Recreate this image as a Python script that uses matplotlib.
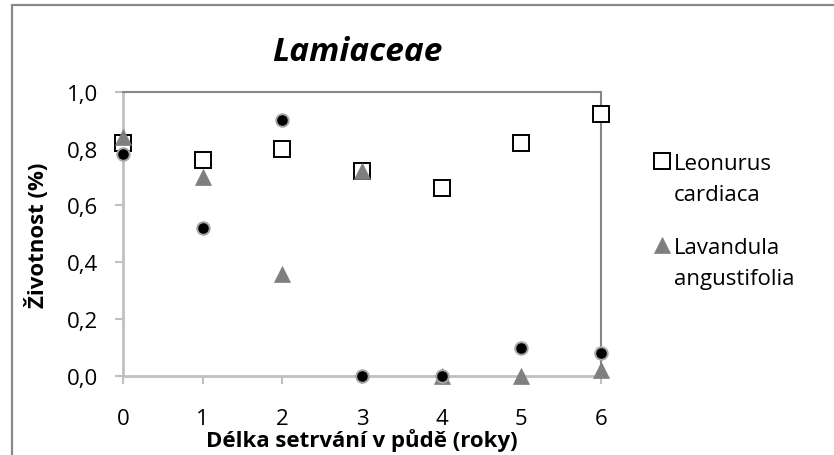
import matplotlib
matplotlib.use("Agg")
import matplotlib.pyplot as plt
from matplotlib.patches import Rectangle

plt.rcParams['font.family'] = ['Open Sans', 'DejaVu Sans']

# Years in soil
years = [0, 1, 2, 3, 4, 5, 6]
# Survival values per species
leonurus = [0.82, 0.76, 0.80, 0.72, 0.66, 0.82, 0.92]
lavandula = [0.84, 0.70, 0.36, 0.72, 0.00, 0.00, 0.02]
third_series = [0.78, 0.52, 0.90, 0.00, 0.00, 0.10, 0.08]

yticks = [0.0, 0.2, 0.4, 0.6, 0.8, 1.0]
ytick_labels = ['0,0', '0,2', '0,4', '0,6', '0,8', '1,0']
xticks = years
xtick_labels = [str(v) for v in years]

W, H = 834, 456
fig = plt.figure(figsize=(W / 100, H / 100), dpi=100)

# chart border (runs off the right and bottom edges)
fig.patches.append(Rectangle((12 / W, -0.05), 1.2, 1 - 6 / H + 0.05,
                             transform=fig.transFigure, fill=False,
                             edgecolor='#8a8a8a', linewidth=1.6))

ax = fig.add_axes([123 / W, 1 - 377 / H, (601 - 123) / W, (377 - 92.7) / H])
ax.set_xlim(0, 6)
ax.set_ylim(0, 1.0)

sq, = ax.plot(years, leonurus, linestyle='none', marker='s', markersize=12,
              markerfacecolor='white', markeredgecolor='black',
              markeredgewidth=1.4, clip_on=False, zorder=3,
              label='Leonurus\ncardiaca')
tri, = ax.plot(years, lavandula, linestyle='none', marker='^', markersize=11,
               markerfacecolor='#7f7f7f', markeredgecolor='#7f7f7f',
               markeredgewidth=0.5, clip_on=False, zorder=4,
               label='Lavandula\nangustifolia')
ax.plot(years, third_series, linestyle='none', marker='o', markersize=9,
        markerfacecolor='black', markeredgecolor='#a6a6a6',
        markeredgewidth=1.4, clip_on=False, zorder=5)

for side in ['top', 'right']:
    ax.spines[side].set_color('#868686')
    ax.spines[side].set_linewidth(1.5)
for side in ['left', 'bottom']:
    ax.spines[side].set_color('#c0c0c0')
    ax.spines[side].set_linewidth(2)

ax.set_yticks(yticks)
ax.set_yticklabels(ytick_labels)
ax.set_xticks(xticks)
ax.set_xticklabels(xtick_labels)
ax.tick_params(axis='y', direction='out', length=6, width=1.5, color='#c0c0c0',
               pad=12, labelsize=16, labelcolor='black')
ax.tick_params(axis='x', direction='out', length=6, width=1.5, color='#c0c0c0',
               pad=17, labelsize=16, labelcolor='black')

ax.set_title('Lamiaceae', fontsize=24, fontweight='bold', fontstyle='italic',
             pad=23, x=(357 - 123) / 478)

ax.set_xlabel('Délka setrvání v půdě (roky)', fontsize=16, fontweight='bold')
ax.xaxis.set_label_coords(0.5, -(429 - 377) / 284.3)
ax.set_ylabel('Životnost (%)', fontsize=16, fontweight='bold')
ax.yaxis.label.set_va('center')
ax.yaxis.set_label_coords((37 - 123) / 478, 0.5)

leg = ax.legend(handles=[sq, tri], loc='upper left',
                bbox_to_anchor=(642 / W, 1 - 143 / H),
                bbox_transform=fig.transFigure, frameon=False, fontsize=16,
                handlelength=0.8, handletextpad=0.13, labelspacing=1.45,
                borderpad=0)
for t in leg.get_texts():
    t.set_linespacing(1.6)
# put each marker level with the first line of its label
for col in leg._legend_handle_box.get_children():
    for item in col.get_children():
        item.align = 'top'

fig.savefig('out.png', dpi=100)
